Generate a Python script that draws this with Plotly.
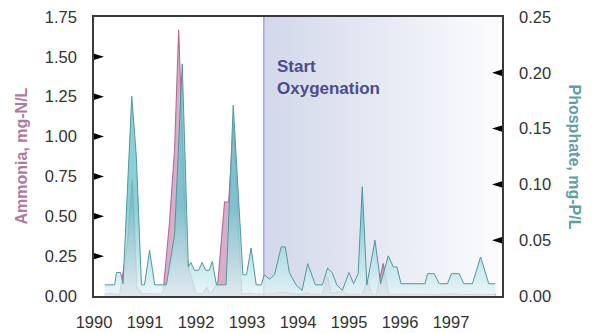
import plotly.graph_objects as go

# ---------------- data ----------------
phos_year = [1990.21, 1990.405, 1990.44, 1990.52, 1990.57, 1990.74, 1990.83, 1990.93, 1990.99,
             1991.09, 1991.19, 1991.42, 1991.58, 1991.73, 1991.85, 1991.90, 1991.97, 1992.05,
             1992.12, 1992.19, 1992.26, 1992.32, 1992.40, 1992.59, 1992.73, 1992.92, 1992.99,
             1993.08, 1993.18, 1993.28, 1993.34, 1993.44, 1993.54, 1993.67, 1993.75, 1993.83,
             1993.96, 1994.08, 1994.19, 1994.34, 1994.48, 1994.58, 1994.67, 1994.76, 1994.87,
             1995.00, 1995.09, 1995.18, 1995.26, 1995.35, 1995.51, 1995.62, 1995.77, 1995.87,
             1995.94, 1996.02, 1996.49, 1996.54, 1996.67, 1996.77, 1996.93, 1997.01, 1997.16,
             1997.25, 1997.42, 1997.58, 1997.74, 1997.87]
phos_val = [0.010, 0.010, 0.021, 0.021, 0.011, 0.179, 0.125, 0.010, 0.010,
            0.041, 0.010, 0.010, 0.055, 0.208, 0.026, 0.030, 0.023, 0.023,
            0.030, 0.023, 0.023, 0.031, 0.010, 0.010, 0.171, 0.019, 0.019,
            0.043, 0.010, 0.010, 0.019, 0.015, 0.019, 0.044, 0.044, 0.021,
            0.010, 0.005, 0.029, 0.010, 0.010, 0.025, 0.021, 0.010, 0.005,
            0.021, 0.011, 0.020, 0.098, 0.010, 0.050, 0.011, 0.036, 0.026,
            0.026, 0.011, 0.011, 0.020, 0.020, 0.011, 0.011, 0.020, 0.020,
            0.011, 0.011, 0.035, 0.011, 0.011]

amm_year = [1990.21, 1990.35, 1990.50, 1990.65, 1990.75, 1990.81, 1990.84, 1990.94, 1991.09,
            1991.19, 1991.33, 1991.36, 1991.48, 1991.58, 1991.66, 1991.73, 1991.81, 1991.87,
            1992.00, 1992.13, 1992.21, 1992.28, 1992.34, 1992.43, 1992.56, 1992.64, 1992.74,
            1992.82, 1992.90, 1993.05, 1993.20, 1993.36, 1993.54, 1993.65, 1993.77, 1993.93,
            1994.06, 1994.19, 1994.26, 1994.48, 1994.58, 1994.65, 1994.78, 1994.87, 1994.97,
            1995.26, 1995.36, 1995.45, 1995.54, 1995.67, 1995.78, 1996.37, 1996.76, 1997.10,
            1997.15, 1997.88]
amm_val = [0.013, 0.019, 0.006, 0.31, 0.73, 0.31, 0.058, 0.013, 0.019,
           0.013, 0.013, 0.04, 0.46, 0.92, 1.67, 1.02, 0.25, 0.16,
           0.019, 0.013, 0.055, 0.013, 0.04, 0.09, 0.59, 0.59, 1.083,
           0.50, 0.013, 0.019, 0.013, 0.013, 0.016, 0.025, 0.019, 0.013,
           0.009, 0.021, 0.009, 0.013, 0.125, 0.016, 0.027, 0.027, 0.011,
           0.011, 0.10, 0.011, 0.013, 0.205, 0.011, 0.011, 0.009, 0.016,
           0.009, 0.011]

year_ticks = [1990, 1991, 1992, 1993, 1994, 1995, 1996, 1997]
year_labels = ["1990", "1991", "1992", "1993", "1994", "1995", "1996", "1997"]
amm_ticks = [0.0, 0.25, 0.5, 0.75, 1.0, 1.25, 1.5, 1.75]
amm_labels = ["0.00", "0.25", "0.50", "0.75", "1.00", "1.25", "1.50", "1.75"]
phos_ticks = [0.0, 0.05, 0.10, 0.15, 0.20, 0.25]
phos_labels = ["0.00", "0.05", "0.10", "0.15", "0.20", "0.25"]

oxygenation_start = 1993.33
x_min, x_max = 1990, 1998
amm_max, phos_max = 1.75, 0.25

# ---------------- layout geometry ----------------
W, H = 595, 333
ML, MR, MT, MB = 94, 93, 17, 37
plot_w = W - ML - MR
plot_h = H - MT - MB

# triangle tick glyph size (pixels -> data units)
tri_len_px, tri_half_px = 10, 3.2
tri_len = tri_len_px * (x_max - x_min) / plot_w
tri_h_amm = tri_half_px * amm_max / plot_h
tri_h_phos = tri_half_px * phos_max / plot_h

FONT = "Liberation Sans, Arial, sans-serif"

fig = go.Figure()

# shaded oxygenation period (horizontal gradient)
fig.add_trace(go.Scatter(
    x=[oxygenation_start, x_max, x_max, oxygenation_start, oxygenation_start],
    y=[0, 0, amm_max, amm_max, 0],
    mode="none", fill="toself",
    fillgradient=dict(type="horizontal", colorscale=[[0, "#d2d8ea"], [1, "#fcfcfe"]]),
    xaxis="x", yaxis="y", hoverinfo="skip", showlegend=False))
fig.add_trace(go.Scatter(
    x=[oxygenation_start, oxygenation_start], y=[0, amm_max],
    mode="lines", line=dict(color="#a7a8d0", width=1.5),
    xaxis="x", yaxis="y", hoverinfo="skip", showlegend=False))

# ammonia (left axis)
fig.add_trace(go.Scatter(
    x=amm_year, y=amm_val, mode="lines", fill="tozeroy",
    line=dict(color="#b5699a", width=1.1),
    fillcolor="rgba(180,110,155,0.55)",
    xaxis="x", yaxis="y", showlegend=False))

# phosphate (right axis), translucent, on top
fig.add_trace(go.Scatter(
    x=phos_year, y=phos_val, mode="lines", fill="tozeroy",
    line=dict(color="#52979c", width=1.0),
    fillgradient=dict(type="vertical", start=0, stop=0.08,
                      colorscale=[[0, "rgba(228,246,248,0.8)"], [1, "rgba(108,196,206,0.8)"]]),
    xaxis="x", yaxis="y2", showlegend=False))

# triangle tick glyphs built from tick values
lx, ly = [], []
for v in amm_ticks[1:-1]:
    lx += [x_min, x_min + tri_len, x_min, None]
    ly += [v - tri_h_amm, v, v + tri_h_amm, None]
fig.add_trace(go.Scatter(x=lx, y=ly, mode="none", fill="toself", fillcolor="black",
                         xaxis="x", yaxis="y", hoverinfo="skip", showlegend=False))
rx, ry = [], []
for v in phos_ticks[1:-1]:
    rx += [x_max, x_max - tri_len, x_max, None]
    ry += [v - tri_h_phos, v, v + tri_h_phos, None]
fig.add_trace(go.Scatter(x=rx, y=ry, mode="none", fill="toself", fillcolor="black",
                         xaxis="x", yaxis="y2", hoverinfo="skip", showlegend=False))

tick_font = dict(family=FONT, size=16.5, color="#333333")
frame = dict(showline=True, linecolor="#3a3a3a", linewidth=1.5)

fig.update_layout(
    width=W, height=H,
    margin=dict(l=ML, r=MR, t=MT, b=MB),
    paper_bgcolor="white", plot_bgcolor="white",
    xaxis=dict(range=[x_min, x_max], tickvals=year_ticks, ticktext=year_labels,
               showgrid=False, zeroline=False, ticks="", tickfont=tick_font,
               ticklabelstandoff=10, automargin=False, mirror=True, **frame),
    yaxis=dict(range=[0, amm_max], tickvals=amm_ticks, ticktext=amm_labels,
               side="left", showgrid=False, zeroline=False, ticks="",
               tickfont=tick_font, ticklabelstandoff=12, automargin=False, **frame),
    yaxis2=dict(range=[0, phos_max], tickvals=phos_ticks, ticktext=phos_labels,
                side="right", overlaying="y", showgrid=False, zeroline=False, ticks="",
                tickfont=tick_font, ticklabelstandoff=12, automargin=False, **frame),
    annotations=[
        dict(text="<b>Start<br>Oxygenation</b>", x=oxygenation_start + 0.22, y=1.37,
             xref="x", yref="y", xanchor="left", yanchor="middle", align="left",
             showarrow=False, font=dict(family=FONT, size=17, color="#4b4c8e")),
        dict(text="<b>Ammonia, mg-N/L</b>", x=(21 - ML) / plot_w, y=0.5,
             xref="paper", yref="paper", xanchor="center", yanchor="middle",
             textangle=-90, showarrow=False,
             font=dict(family=FONT, size=16, color="#b07aa0")),
        dict(text="<b>Phosphate, mg-P/L</b>", x=(574 - ML) / plot_w, y=0.5,
             xref="paper", yref="paper", xanchor="center", yanchor="middle",
             textangle=90, showarrow=False,
             font=dict(family=FONT, size=16, color="#5e9fa2")),
    ],
)

fig.write_html("out.html", config={"displayModeBar": False},
               post_script="document.body.style.margin='0px';document.body.style.padding='0px';")
